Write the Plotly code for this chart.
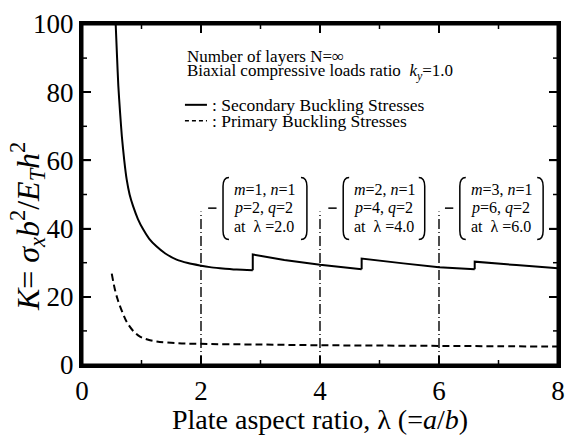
import plotly.graph_objects as go

# Secondary buckling stress curve, one branch per mode change
sec_lam_1 = [0.566, 0.59, 0.61, 0.64, 0.67, 0.71, 0.75, 0.80, 0.86, 0.94, 1.03, 1.13,
             1.25, 1.40, 1.59, 1.78, 1.98, 2.15, 2.32, 2.60, 2.87]
sec_k_1 = [100, 90, 82, 74, 67, 60, 54.5, 50, 46.5, 42.8, 39.7, 37,
           34.8, 32.7, 30.9, 29.9, 29.2, 28.7, 28.4, 28.0, 27.8]
sec_lam_2 = [2.87, 3.4, 4.0, 4.70]
sec_k_2 = [32.4, 30.8, 29.4, 28.1]
sec_lam_3 = [4.70, 5.4, 6.0, 6.6]
sec_k_3 = [31.2, 29.8, 28.7, 28.1]
sec_lam_4 = [6.6, 7.3, 8.0]
sec_k_4 = [30.3, 29.3, 28.4]

# Primary buckling stress curve
pri_lam = [0.5, 0.555, 0.6, 0.64, 0.70, 0.75, 0.85, 0.975, 1.1, 1.255, 1.59, 1.98,
           3.0, 4.0, 5.0, 6.0, 7.0, 8.0]
pri_k = [26.8, 22, 19.2, 17.2, 14.6, 12.7, 10.2, 8.3, 7.5, 6.9, 6.4, 6.2,
         6.0, 5.8, 5.7, 5.6, 5.5, 5.4]

# Mode-shape callouts at selected aspect ratios
mark_lam = [2.0, 4.0, 6.0]
mark_top = 45
mode_m = [1, 2, 3]
mode_n = [1, 1, 1]
mode_p = [2, 4, 6]
mode_q = [2, 2, 2]
box_left = [2.37, 4.39, 6.35]
box_right = [3.78, 5.76, 7.75]

x_ticks = [0, 2, 4, 6, 8]
x_minor = [1, 3, 5, 7]
y_ticks = [0, 20, 40, 60, 80, 100]
y_minor = [10, 30, 50, 70, 90]
X_RANGE = [0, 8]
Y_RANGE = [0, 100]

SERIF = "Liberation Serif, serif"
W, H = 568, 435
MARGIN = dict(l=82, r=10, t=24, b=70)

# data units per screen pixel, used for the inward tick lengths
dx_px = (X_RANGE[1] - X_RANGE[0]) / (W - MARGIN["l"] - MARGIN["r"])
dy_px = (Y_RANGE[1] - Y_RANGE[0]) / (H - MARGIN["t"] - MARGIN["b"])

fig = go.Figure()

# vertical dash-dot markers at the listed aspect ratios
vx, vy = [], []
for lam in mark_lam:
    vx += [lam, lam, None]
    vy += [0, mark_top, None]
fig.add_trace(go.Scatter(x=vx, y=vy, mode="lines",
                         line=dict(color="black", width=1.4, dash="10px,3px,1px,3px"),
                         hoverinfo="skip"))

# first branch is smooth; later branches start with the vertical jump
fig.add_trace(go.Scatter(x=sec_lam_1, y=sec_k_1, mode="lines", line_shape="spline",
                         line=dict(color="black", width=2, smoothing=0.6)))
branches = [(sec_lam_1, sec_k_1, sec_lam_2, sec_k_2),
            (sec_lam_2, sec_k_2, sec_lam_3, sec_k_3),
            (sec_lam_3, sec_k_3, sec_lam_4, sec_k_4)]
for pl, pk, bl, bk in branches:
    fig.add_trace(go.Scatter(x=[pl[-1]] + bl, y=[pk[-1]] + bk, mode="lines",
                             line=dict(color="black", width=2)))

fig.add_trace(go.Scatter(x=pri_lam, y=pri_k, mode="lines", line_shape="spline",
                         line=dict(color="black", width=2, dash="7px,4px")))

# plot frame and inward ticks on all four sides
tx, ty = [], []
for vals, ln in [(x_ticks, 9), (x_minor, 5)]:
    for v in vals:
        tx += [v, v, None, v, v, None]
        ty += [Y_RANGE[0], Y_RANGE[0] + ln * dy_px, None,
               Y_RANGE[1], Y_RANGE[1] - ln * dy_px, None]
for vals, ln in [(y_ticks, 9), (y_minor, 5)]:
    for v in vals:
        tx += [X_RANGE[0], X_RANGE[0] + ln * dx_px, None,
               X_RANGE[1], X_RANGE[1] - ln * dx_px, None]
        ty += [v, v, None, v, v, None]
fig.add_trace(go.Scatter(x=tx, y=ty, mode="lines", cliponaxis=False,
                         line=dict(color="black", width=1.5), hoverinfo="skip"))
fig.add_trace(go.Scatter(x=[X_RANGE[0], X_RANGE[1], X_RANGE[1], X_RANGE[0], X_RANGE[0]],
                         y=[Y_RANGE[0], Y_RANGE[0], Y_RANGE[1], Y_RANGE[1], Y_RANGE[0]],
                         mode="lines", cliponaxis=False,
                         line=dict(color="black", width=3), hoverinfo="skip"))

shapes = []
annotations = []

# parenthesised mode descriptions
p_top, p_bot = 55.0, 36.8
w, r = 0.10, 2.6
for i in range(3):
    xl, xr = box_left[i], box_right[i]
    shapes.append(dict(type="path", xref="x", yref="y",
                       path=f"M {xl + w},{p_top} Q {xl},{p_top} {xl},{p_top - r} "
                            f"L {xl},{p_bot + r} Q {xl},{p_bot} {xl + w},{p_bot}",
                       line=dict(color="black", width=1.5)))
    shapes.append(dict(type="path", xref="x", yref="y",
                       path=f"M {xr - w},{p_top} Q {xr},{p_top} {xr},{p_top - r} "
                            f"L {xr},{p_bot + r} Q {xr},{p_bot} {xr - w},{p_bot}",
                       line=dict(color="black", width=1.5)))
    shapes.append(dict(type="line", xref="x", yref="y",
                       x0=xl - 0.25, x1=xl - 0.11, y0=46, y1=46,
                       line=dict(color="black", width=1.5)))
    lines = [f"<i>m</i>={mode_m[i]}, <i>n</i>={mode_n[i]}",
             f"<i>p</i>={mode_p[i]}, <i>q</i>={mode_q[i]}",
             f"at  λ ={mark_lam[i]:.1f}"]
    for txt, ky in zip(lines, [51.5, 46.0, 40.6]):
        annotations.append(dict(x=xl + 0.15, y=ky, xref="x", yref="y", text=txt,
                                showarrow=False, xanchor="left", yanchor="middle",
                                font=dict(family=SERIF, size=16, color="black")))

# header notes and line key
notes = [("Number of layers N=∞", 90.6),
         ("Biaxial compressive loads ratio  <i>k</i><sub><i>y</i></sub>=1.0", 85.9)]
for txt, ky in notes:
    annotations.append(dict(x=1.73, y=ky, xref="x", yref="y", text=txt, showarrow=False,
                            xanchor="left", yanchor="middle",
                            font=dict(family=SERIF, size=17, color="black")))
shapes.append(dict(type="line", xref="x", yref="y", x0=1.73, x1=2.1, y0=76.3, y1=76.3,
                   line=dict(color="black", width=2)))
shapes.append(dict(type="line", xref="x", yref="y", x0=1.73, x1=2.1, y0=71.6, y1=71.6,
                   line=dict(color="black", width=1.5, dash="4px,3px")))
for txt, ky in [(": Secondary Buckling Stresses", 76.3), (": Primary Buckling Stresses", 71.6)]:
    annotations.append(dict(x=2.15, y=ky, xref="x", yref="y", text=txt, showarrow=False,
                            xanchor="left", yanchor="middle",
                            font=dict(family=SERIF, size=17.5, color="black")))

# y-axis title placed as a rotated note
annotations.append(dict(x=-0.113, y=0.405, xref="paper", yref="paper", showarrow=False,
                        textangle=-90, xanchor="center", yanchor="middle",
                        text="<i>K</i>= <i>σ</i><sub><i>x</i></sub><i>b</i><sup>2</sup>/"
                             "<i>E</i><sub><i>T</i></sub><i>h</i><sup>2</sup>",
                        font=dict(family=SERIF, size=32, color="black")))

axis_style = dict(showline=True, linewidth=3, linecolor="black", mirror="allticks",
                  ticks="inside", ticklen=9, tickwidth=1.5, tickcolor="black",
                  showgrid=False, zeroline=False, automargin=False,
                  tickfont=dict(family="serif", size=27, color="black"))

fig.update_layout(
    template="none",
    width=W, height=H,
    margin=dict(**MARGIN, autoexpand=False),
    paper_bgcolor="white", plot_bgcolor="white",
    showlegend=False,
    shapes=shapes, annotations=annotations,
    font=dict(family=SERIF, color="black"),
    xaxis=dict(range=X_RANGE, tickmode="array", tickvals=x_ticks,
               ticktext=[str(v) for v in x_ticks],
               title=dict(text="Plate aspect ratio, λ (=<i>a</i>/<i>b</i>)", standoff=10,
                          font=dict(family=SERIF, size=28, color="black")),
               **axis_style),
    yaxis=dict(range=Y_RANGE, tickmode="array", tickvals=y_ticks,
               ticktext=[str(v) for v in y_ticks],
               **axis_style),
)

fig.write_html("out.html")
